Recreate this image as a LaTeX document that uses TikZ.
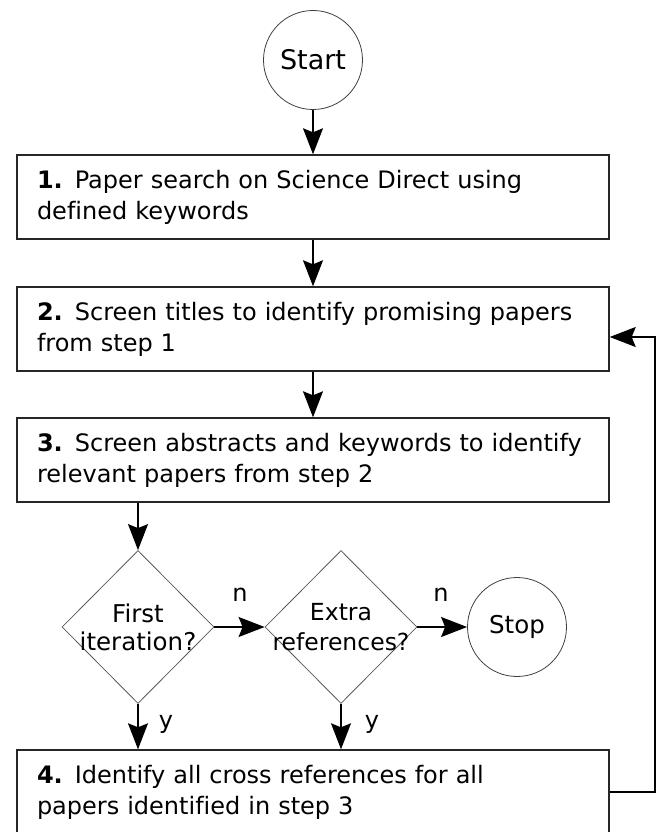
\documentclass[tikz,border=0pt]{standalone}
\usepackage{fontspec}
\setmainfont[Ligatures=NoCommon]{DejaVu Sans}
\usetikzlibrary{positioning,shapes.geometric,arrows.meta}

\begin{document}
\begin{tikzpicture}[x=1pt,y=-1pt,font=\fontsize{24}{31}\selectfont,
  stepbox/.style={draw=black!85,line width=1.4pt,minimum height=84pt,text width=552pt,inner xsep=20pt,align=left},
  terminal/.style={draw=black!75,line width=0.8pt,circle,minimum size=99pt,inner sep=0pt},
  decision/.style={draw=black!65,line width=0.8pt,diamond,minimum width=152pt,minimum height=153pt,inner sep=0pt,text width=0pt,align=center},
  flow/.style={line width=1.4pt,-{Stealth[length=26pt,width=20pt,inset=4pt]}}]
\useasboundingbox (0,0) rectangle (659,832);
\node[terminal,font=\fontsize{27}{31}\selectfont] (start) at (313,60) {Start};
\node[stepbox] (s1) at (313,197) {\textbf{1.} Paper search on Science Direct using\\defined keywords};
\node[stepbox] (s2) at (313,329) {\textbf{2.} Screen titles to identify promising papers\\from step 1};
\node[stepbox] (s3) at (313,460) {\textbf{3.} Screen abstracts and keywords to identify\\relevant papers from step 2};
\node[decision,font=\fontsize{24.5}{28}\selectfont] (first) at (138,627) {\makebox[0pt]{First}\\\makebox[0pt]{iteration?}};
\node[decision,font=\fontsize{23.5}{30}\selectfont] (extra) at (341,627) {\makebox[0pt]{Extra}\\\makebox[0pt]{references?}};
\node[terminal,font=\fontsize{24.5}{31}\selectfont] (stop) at (517,627) {Stop};
\node[stepbox] (s4) at (313,792) {\textbf{4.} Identify all cross references for all\\papers identified in step 3};
\coordinate (loop) at (655,0);
\coordinate (s2in) at ([yshift=-8pt]s2.east);
\draw[flow] (start) -- (s1);
\draw[flow] (s1) -- (s2);
\draw[flow] (s2) -- (s3);
\draw[flow] (first.north |- s3.south) -- (first.north);
\draw[flow] (first.east) -- (extra.west);
\draw[flow] (extra.east) -- (stop.west);
\draw[flow] (first.south) -- (first.south |- s4.north);
\draw[flow] (extra.south) -- (extra.south |- s4.north);
\draw[flow] (s4.east) -- (s4.east -| loop) -- (loop |- s2in) -- (s2in);
\node (n1) at (240,595) {n};
\node (n2) at (441,595) {n};
\node (y1) at (166,724) {y};
\node (y2) at (372,724) {y};
\end{tikzpicture}
\end{document}
